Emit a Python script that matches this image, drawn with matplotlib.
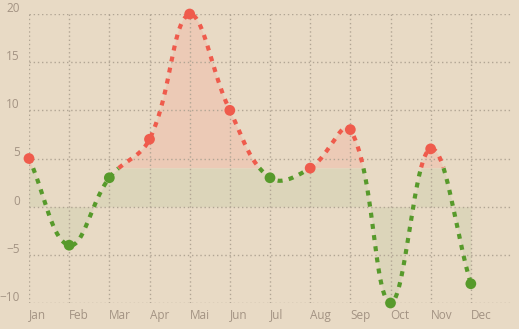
import numpy as np
import matplotlib
matplotlib.use("Agg")
import matplotlib.pyplot as plt
import matplotlib.transforms as mtransforms

months = ["Jan", "Feb", "Mar", "Apr", "Mai", "Jun", "Jul", "Aug", "Sep", "Oct", "Nov", "Dec"]
values = [5, -4, 3, 7, 20, 10, 3, 4, 8, -10, 6, -8]
threshold = 4

RED = "#ef5b4c"
GREEN = "#579a2b"
BG = "#e8dac5"
TEXT = "#a39383"
GRID = "#b1a594"

plt.rcParams["font.family"] = ["Open Sans", "DejaVu Sans"]

fig = plt.figure(figsize=(5.19, 3.29), dpi=100, facecolor=BG)
ax = fig.add_axes([29 / 519, 26 / 329, 482 / 519, 289 / 329], facecolor=BG)

ymin, ymax = -10, 20
xmax = len(months)

# chart.js style bezier (tension 0.4) computed in pixel space
sx, sy = 40.2, 9.63
x = np.arange(len(values), dtype=float)
y = np.array(values, dtype=float)
t = 0.4
cp_prev = []
cp_next = []
for i in range(len(x)):
    p0 = (x[max(i - 1, 0)], y[max(i - 1, 0)])
    p1 = (x[i], y[i])
    p2 = (x[min(i + 1, len(x) - 1)], y[min(i + 1, len(x) - 1)])
    d01 = np.hypot((p1[0] - p0[0]) * sx, (p1[1] - p0[1]) * sy)
    d12 = np.hypot((p2[0] - p1[0]) * sx, (p2[1] - p1[1]) * sy)
    tot = d01 + d12
    s01 = d01 / tot if tot else 0
    s12 = d12 / tot if tot else 0
    fa, fb = t * s01, t * s12
    cpx_p = p1[0] - fa * (p2[0] - p0[0])
    cpy_p = p1[1] - fa * (p2[1] - p0[1])
    cpx_n = p1[0] + fb * (p2[0] - p0[0])
    cpy_n = p1[1] + fb * (p2[1] - p0[1])
    cp_prev.append((np.clip(cpx_p, 0, xmax), np.clip(cpy_p, ymin, ymax)))
    cp_next.append((np.clip(cpx_n, 0, xmax), np.clip(cpy_n, ymin, ymax)))

xs, ys = [], []
u = np.linspace(0, 1, 200)
for i in range(len(x) - 1):
    P0 = np.array([x[i], y[i]])
    P1 = np.array(cp_next[i])
    P2 = np.array(cp_prev[i + 1])
    P3 = np.array([x[i + 1], y[i + 1]])
    b = ((1 - u) ** 3)[:, None] * P0 + (3 * (1 - u) ** 2 * u)[:, None] * P1 \
        + (3 * (1 - u) * u ** 2)[:, None] * P2 + (u ** 3)[:, None] * P3
    xs.extend(b[:, 0])
    ys.extend(b[:, 1])
xs = np.array(xs)
ys = np.array(ys)

# fills
ax.fill_between(xs, threshold, ys, where=ys > threshold, interpolate=True,
                color="#eccab6", zorder=1, lw=0)
ax.fill_between(xs, 0, np.minimum(ys, threshold), color="#dcd5ba", zorder=1, lw=0)

# line in two colours
hi = np.where(ys >= threshold, ys, np.nan)
lo = np.where(ys <= threshold, ys, np.nan)
ax.plot(xs, hi, color=RED, lw=3, dashes=(1.2, 1.5), zorder=3)
ax.plot(xs, lo, color=GREEN, lw=3, dashes=(1.2, 1.5), zorder=3)

cols = [RED if v >= threshold else GREEN for v in values]
ax.scatter(x, y, s=60, c=cols, zorder=4, lw=0, clip_on=False)

ax.set_xlim(0, xmax)
ax.set_ylim(ymin, ymax)
ax.set_xticks(x)
ax.set_xticklabels(months, ha="left")
ax.set_yticks(np.arange(-10, 21, 5))
ax.set_axisbelow("line")
ax.grid(True, color=GRID, ls=(0, (1, 2)), lw=1)
ax.tick_params(length=0, colors=TEXT, labelsize=8.5)
ax.tick_params(axis="y", pad=6.5)
ax.tick_params(axis="x", pad=4)
for lab in ax.get_yticklabels():
    lab.set_transform(lab.get_transform() + mtransforms.ScaledTranslation(0, 7 / 100, fig.dpi_scale_trans))
for s in ax.spines.values():
    s.set_visible(False)

fig.savefig("out.png", dpi=100, facecolor=BG)
